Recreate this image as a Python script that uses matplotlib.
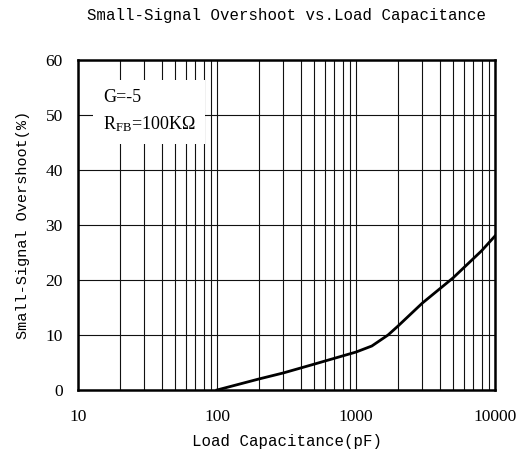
import matplotlib
matplotlib.use("Agg")
import numpy as np
from matplotlib import pyplot as plt
from matplotlib.ticker import FixedLocator, NullFormatter

# data
cap_pf = [100, 200, 300, 500, 1000, 1300, 1700, 2000, 3000, 5000, 8000, 10000]
overshoot = [0, 2.0, 3.1, 4.7, 6.9, 8.0, 10.0, 11.6, 15.8, 20.4, 25.3, 28.0]
x_ticks = [10, 100, 1000, 10000]
x_tick_labels = ['10', '100', '1000', '10000']
y_ticks = [0, 10, 20, 30, 40, 50, 60]

mono = 'Liberation Mono'
serif = 'Liberation Serif'
plt.rcParams['mathtext.fontset'] = 'custom'
plt.rcParams['mathtext.rm'] = serif
plt.rcParams['mathtext.it'] = serif + ':italic'
plt.rcParams['mathtext.bf'] = serif + ':bold'

fig = plt.figure(figsize=(5.26, 4.53), dpi=100)
ax = fig.add_axes([78/526, 1-390/453, (495-78)/526, (390-60)/453])

minors = [m * d for d in (10, 100, 1000) for m in range(2, 10)]
ax.set_xscale('log')
ax.set_xlim(10, 10000)
ax.set_ylim(0, 60)
ax.xaxis.set_major_locator(FixedLocator(x_ticks))
ax.xaxis.set_minor_locator(FixedLocator(minors))
ax.xaxis.set_minor_formatter(NullFormatter())
ax.set_xticks(x_ticks)
ax.set_xticklabels(x_tick_labels)
ax.set_yticks(y_ticks)
ax.set_yticklabels([str(v) for v in y_ticks])
ax.tick_params(which='both', length=0, labelsize=12.5)
ax.tick_params(axis='x', pad=14)
ax.tick_params(axis='y', pad=11)
for lab in ax.get_xticklabels() + ax.get_yticklabels():
    lab.set_fontfamily(serif)

ax.grid(True, which='both', axis='x', color='#111111', linewidth=0.8)
ax.grid(True, which='major', axis='y', color='#111111', linewidth=0.8)
for s in ax.spines.values():
    s.set_linewidth(1.8)

ax.plot(cap_pf, overshoot, color='black', linewidth=2, zorder=3)

ax.text(0.06, 0.79, 'G=-5\nR$_{\\mathrm{FB}}$=100K\u03a9', transform=ax.transAxes,
        fontfamily=serif, fontsize=13, linespacing=1.55,
        bbox=dict(facecolor='white', edgecolor='none', pad=7), zorder=4)

ax.set_title('Small-Signal Overshoot vs.Load Capacitance', fontfamily=mono,
             fontsize=11.3, pad=28.5)
ax.set_xlabel('Load Capacitance(pF)', fontfamily=mono, fontsize=11.3, labelpad=6)
ax.set_ylabel('Small-Signal Overshoot(%)', fontfamily=mono, fontsize=11, labelpad=11)

fig.savefig('out.png', dpi=100)
